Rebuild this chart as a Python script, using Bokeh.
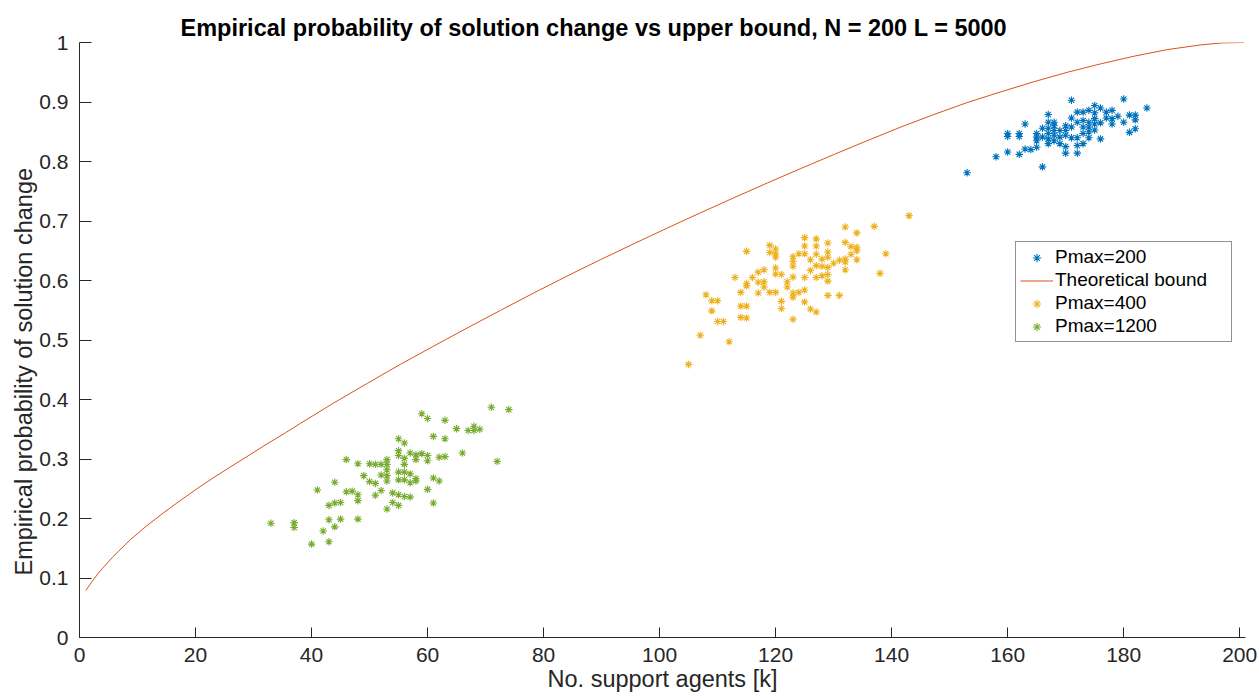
from bokeh.plotting import figure
from bokeh.models import Range1d, FixedTicker, Legend, LegendItem, Title
from bokeh.embed import file_html
from bokeh.resources import INLINE

# ---------------- data ----------------
title_text = "Empirical probability of solution change vs upper bound, N = 200 L = 5000"
x_label = "No. support agents [k]"
y_label = "Empirical probability of solution change"

x_ticks = [0, 20, 40, 60, 80, 100, 120, 140, 160, 180, 200]
y_ticks = [0, 0.1, 0.2, 0.3, 0.4, 0.5, 0.6, 0.7, 0.8, 0.9, 1]
y_tick_labels = ["0", "0.1", "0.2", "0.3", "0.4", "0.5", "0.6", "0.7", "0.8", "0.9", "1"]

series_names = ["Pmax=200", "Theoretical bound", "Pmax=400", "Pmax=1200"]

bound_k = [1.1, 2.3, 3.4, 5.7, 8.6, 11.5, 14.4, 17.2, 20.1, 23.0, 25.9, 28.7, 31.6,
           35.5, 38.1, 43.8, 49.6, 55.3, 61.1, 66.8, 72.6, 78.3, 85.2, 89.8, 95.6,
           101.3, 107.1, 112.8, 118.6, 124.3, 130.1, 135.8, 141.6, 147.3, 153.0,
           158.8, 164.5, 170.3, 176.0, 181.8, 187.5, 193.3, 197.0, 200.7]
bound_p = [0.079, 0.096, 0.110, 0.135, 0.163, 0.187, 0.209, 0.229, 0.249, 0.268,
           0.286, 0.303, 0.321, 0.344, 0.360, 0.394, 0.427, 0.459, 0.490, 0.520,
           0.550, 0.579, 0.613, 0.635, 0.662, 0.688, 0.714, 0.739, 0.764, 0.788,
           0.812, 0.835, 0.858, 0.879, 0.899, 0.917, 0.934, 0.950, 0.964, 0.977,
           0.988, 0.996, 0.9993, 1.000]

p200_k = [153, 158, 160, 160, 160, 162, 162, 162, 163, 163, 164, 165, 165, 165, 165,
          166, 166, 166, 167, 167, 167, 167, 167, 167, 168, 168, 168, 168, 168, 169,
          169, 169, 170, 170, 170, 170, 170, 171, 171, 171, 171, 172, 172, 172, 172,
          172, 173, 173, 173, 173, 173, 174, 174, 174, 174, 174, 175, 175, 175, 175,
          175, 176, 176, 176, 177, 177, 178, 178, 178, 179, 180, 180, 181, 181, 182,
          182, 182, 184]
p200_p = [0.781, 0.808, 0.847, 0.842, 0.816, 0.847, 0.842, 0.812, 0.863, 0.821, 0.820,
          0.847, 0.841, 0.835, 0.824, 0.856, 0.841, 0.791, 0.879, 0.866, 0.856, 0.847,
          0.838, 0.830, 0.866, 0.860, 0.852, 0.844, 0.835, 0.852, 0.841, 0.830, 0.860,
          0.852, 0.844, 0.825, 0.814, 0.903, 0.873, 0.858, 0.840, 0.883, 0.866, 0.840,
          0.827, 0.814, 0.883, 0.869, 0.858, 0.847, 0.830, 0.886, 0.866, 0.858, 0.850,
          0.840, 0.894, 0.882, 0.872, 0.863, 0.853, 0.890, 0.865, 0.838, 0.883, 0.873,
          0.886, 0.872, 0.863, 0.876, 0.905, 0.866, 0.878, 0.849, 0.878, 0.870, 0.855,
          0.890]

p400_k = [105, 107, 108, 109, 110, 109, 110, 111, 112, 113, 114, 114, 114, 115, 115,
          115, 115, 115, 116, 117, 117, 117, 118, 118, 118, 119, 119, 119, 120, 120,
          120, 120, 120, 120, 121, 121, 121, 122, 122, 123, 123, 123, 123, 123, 123,
          123, 124, 124, 125, 125, 125, 125, 125, 125, 126, 126, 126, 127, 127, 127,
          127, 127, 127, 128, 128, 128, 129, 129, 129, 129, 129, 129, 129, 130, 131,
          131, 132, 132, 132, 132, 132, 133, 133, 134, 134, 134, 134, 137, 138, 139,
          143]
p400_p = [0.459, 0.508, 0.576, 0.566, 0.566, 0.549, 0.531, 0.531, 0.497, 0.605, 0.580,
          0.557, 0.538, 0.649, 0.595, 0.591, 0.557, 0.537, 0.605, 0.614, 0.597, 0.579,
          0.618, 0.598, 0.589, 0.659, 0.647, 0.580, 0.653, 0.645, 0.639, 0.621, 0.611,
          0.580, 0.610, 0.565, 0.553, 0.598, 0.589, 0.640, 0.632, 0.624, 0.606, 0.579,
          0.572, 0.535, 0.645, 0.580, 0.672, 0.658, 0.645, 0.605, 0.584, 0.564, 0.635,
          0.617, 0.552, 0.670, 0.658, 0.644, 0.625, 0.605, 0.547, 0.636, 0.624, 0.608,
          0.663, 0.648, 0.639, 0.622, 0.610, 0.599, 0.575, 0.629, 0.634, 0.575, 0.690,
          0.664, 0.636, 0.631, 0.618, 0.657, 0.644, 0.680, 0.656, 0.650, 0.635, 0.691,
          0.612, 0.645, 0.709]

p1200_k = [33, 37, 37, 40, 41, 42, 43, 43, 43, 44, 44, 44, 45, 45, 46, 46, 47, 48, 48,
           48, 48, 49, 50, 50, 51, 51, 51, 52, 52, 52, 53, 53, 53, 53, 53, 53, 54, 54,
           55, 55, 55, 55, 55, 55, 55, 56, 56, 56, 56, 56, 56, 57, 57, 57, 57, 58, 58,
           58, 58, 59, 59, 60, 60, 60, 60, 61, 61, 61, 62, 62, 63, 63, 63, 65, 66, 67,
           68, 68, 69, 71, 72, 74]
p1200_p = [0.192, 0.193, 0.185, 0.157, 0.248, 0.179, 0.222, 0.198, 0.161, 0.261, 0.226,
           0.186, 0.227, 0.199, 0.299, 0.245, 0.246, 0.292, 0.240, 0.230, 0.199, 0.272,
           0.292, 0.262, 0.291, 0.259, 0.239, 0.291, 0.273, 0.247, 0.299, 0.291, 0.282,
           0.272, 0.263, 0.216, 0.243, 0.227, 0.334, 0.314, 0.306, 0.278, 0.265, 0.240,
           0.222, 0.327, 0.301, 0.291, 0.278, 0.265, 0.237, 0.310, 0.275, 0.260, 0.236,
           0.307, 0.299, 0.267, 0.263, 0.376, 0.309, 0.368, 0.306, 0.297, 0.249, 0.338,
           0.268, 0.226, 0.303, 0.263, 0.365, 0.334, 0.304, 0.351, 0.310, 0.348, 0.355,
           0.348, 0.350, 0.387, 0.296, 0.383]

# ---------------- style ----------------
FONT = "Liberation Sans"
AX = "#262626"
C_BLUE = "#0072BD"
C_RED = "#D95319"
C_YEL = "#EDB120"
C_GRN = "#77AC30"

p = figure(width=1259, height=698, output_backend="svg", toolbar_location=None,
           x_range=Range1d(0, 201), y_range=Range1d(0, 1),
           min_border_left=79, min_border_right=14, min_border_top=42,
           min_border_bottom=61)
p.outline_line_color = None
p.background_fill_color = "white"
p.border_fill_color = "white"
p.grid.visible = False

p.title.text = title_text
p.title.text_font = FONT
p.title.text_font_size = "23.5px"
p.title.text_font_style = "bold"
p.title.text_color = "black"
p.title.align = "left"
p.title.offset = 101
p.title.standoff = 3

for ax in (p.xaxis[0], p.yaxis[0]):
    ax.axis_line_color = AX
    ax.axis_line_width = 1
    ax.major_tick_line_color = AX
    ax.major_tick_out = 0
    ax.minor_tick_line_color = None
    ax.major_label_text_font = FONT
    ax.major_label_text_font_size = "21px"
    ax.major_label_text_color = AX

p.xaxis.ticker = FixedTicker(ticks=x_ticks)
p.xaxis.major_tick_in = 10
p.xaxis.major_label_standoff = 10
p.xaxis.axis_label = x_label
p.xaxis.axis_label_text_font = FONT
p.xaxis.axis_label_text_font_size = "23.5px"
p.xaxis.axis_label_text_font_style = "normal"
p.xaxis.axis_label_text_color = AX
p.xaxis.axis_label_standoff = 1

p.yaxis.ticker = FixedTicker(ticks=y_ticks)
p.yaxis.major_label_overrides = {t: s for t, s in zip(y_ticks, y_tick_labels)}
p.yaxis.major_tick_in = 12
p.yaxis.major_label_standoff = 11

r200 = p.scatter(p200_k, p200_p, marker="asterisk", size=7.5, line_color=C_BLUE,
                 line_width=1.1)
rb = p.line(bound_k, bound_p, line_color=C_RED, line_width=1)
r400 = p.scatter(p400_k, p400_p, marker="asterisk", size=7.5, line_color=C_YEL,
                 line_width=1.1)
r1200 = p.scatter(p1200_k, p1200_p, marker="asterisk", size=7.5, line_color=C_GRN,
                  line_width=1.1)

legend = Legend(items=[LegendItem(label=series_names[0], renderers=[r200]),
                       LegendItem(label=series_names[1], renderers=[rb]),
                       LegendItem(label=series_names[2], renderers=[r400]),
                       LegendItem(label=series_names[3], renderers=[r1200])],
                location=(936, 295), orientation="vertical",
                label_text_font=FONT, label_text_font_size="19px",
                label_text_color="black",
                glyph_width=33, glyph_height=21, label_height=21, label_width=172,
                label_standoff=2, spacing=1, padding=4, margin=0,
                border_line_color=AX, border_line_width=1,
                background_fill_color="white", background_fill_alpha=1)
p.add_layout(legend, "center")

ytitle = Title(text=y_label, align="left", offset=62, text_font=FONT,
               text_font_size="23.5px", text_font_style="normal", text_color=AX,
               standoff=0)
p.add_layout(ytitle, "left")

open("out.html", "w").write(file_html(p, INLINE))
